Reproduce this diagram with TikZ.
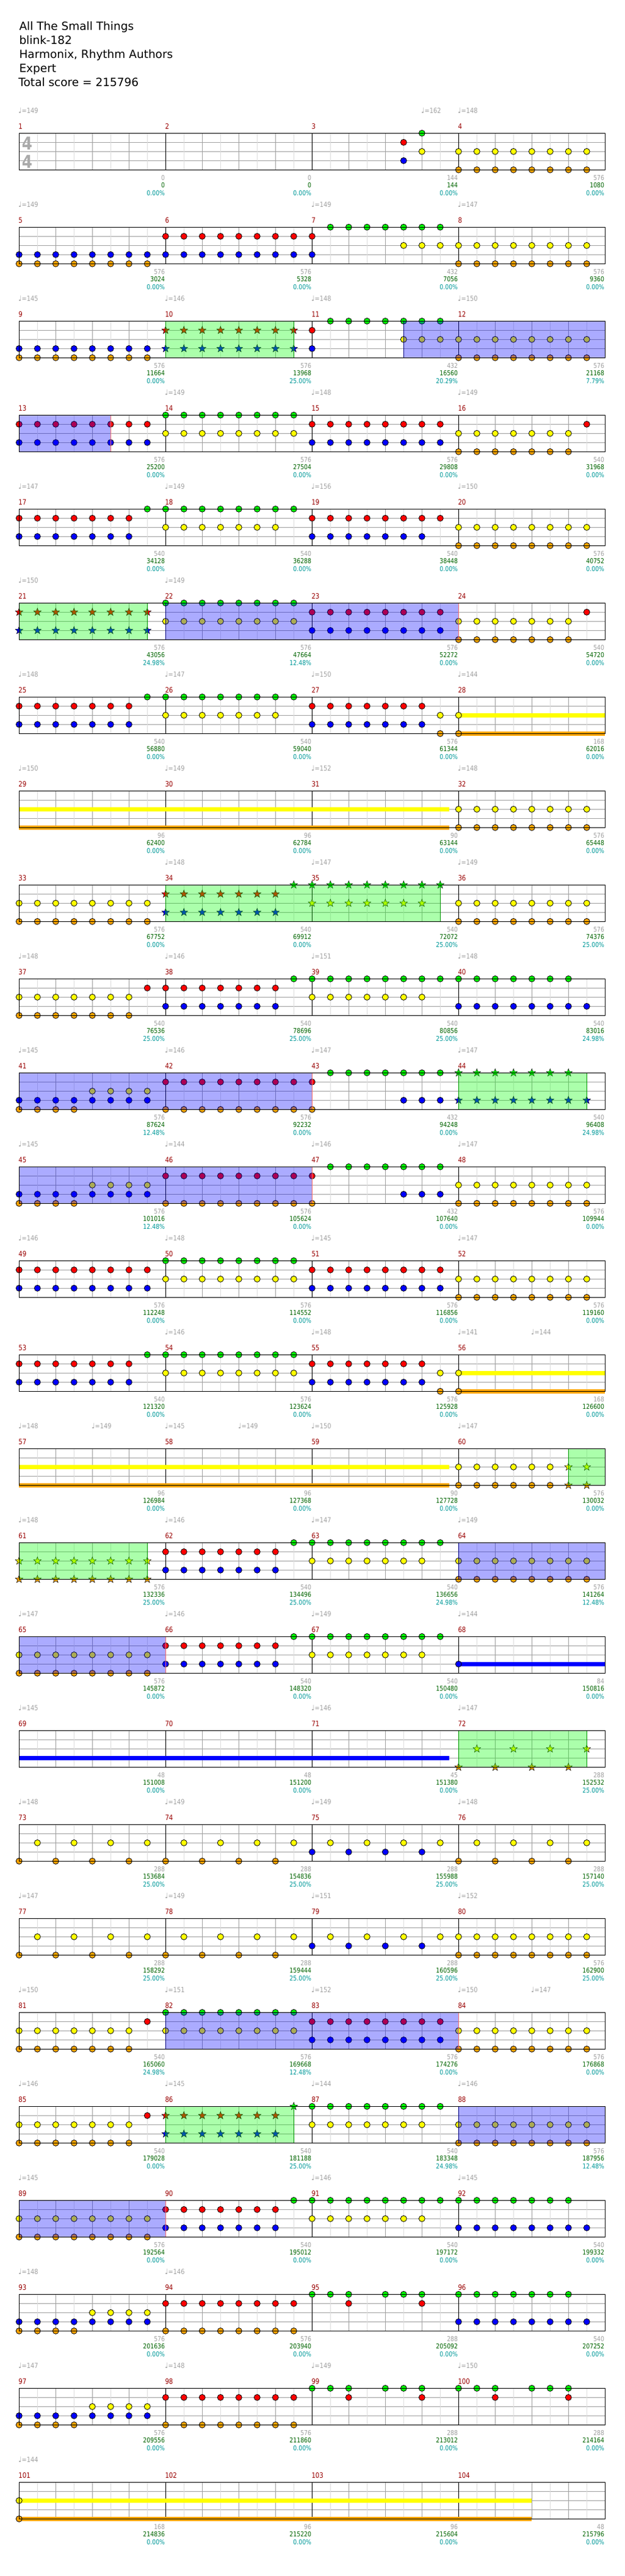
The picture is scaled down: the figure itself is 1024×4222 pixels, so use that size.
\documentclass[tikz,border=0pt]{standalone}
\usepackage{fontspec}
\setmainfont{DejaVu Sans}
\newfontfamily\numfont{DejaVu Sans}[FakeStretch=0.85]
\newfontfamily\sigfont{DejaVu Sans}[FakeStretch=0.85]
\usetikzlibrary{shapes.geometric}
\definecolor{gridA}{RGB}{160,160,160}
\definecolor{gridB}{RGB}{221,221,221}
\definecolor{nG}{RGB}{0,255,0}
\definecolor{nR}{RGB}{255,0,0}
\definecolor{nY}{RGB}{255,255,0}
\definecolor{nB}{RGB}{0,0,255}
\definecolor{nO}{RGB}{255,165,0}
\definecolor{mnred}{RGB}{153,0,0}
\definecolor{txgray}{RGB}{160,160,160}
\definecolor{txgreen}{RGB}{0,100,0}
\definecolor{txteal}{RGB}{0,153,153}
\definecolor{zonenavy}{RGB}{0,0,128}
\definecolor{zonegreenb}{RGB}{0,150,0}
\definecolor{sigray}{RGB}{170,170,170}
\definecolor{edgered}{RGB}{255,110,110}
\tikzset{
  lanegrid/.style={draw=gridA, line width=1pt},
  halfgrid/.style={draw=gridB, line width=1pt},
  beatgrid/.style={draw=gridA, line width=1pt},
  barline/.style={draw=black, line width=1pt},
  staffborder/.style={draw=black, line width=1.5pt},
  notecirc/.style={draw=black, line width=0.8pt},
  starshape/.style={draw=black, line width=0.5pt},
  gz/.style={fill=nG, fill opacity=0.33, draw=zonegreenb, line width=0.8pt},
  bz/.style={fill=nB, fill opacity=0.33, draw=zonenavy, line width=1pt},
  redge/.style={draw=edgered, line width=1pt},
  titletxt/.style={anchor=base west, inner sep=0pt, font=\fontsize{18.5}{22}\selectfont},
  stat/.style={anchor=base east, inner sep=0pt, font=\numfont\fontsize{11}{12}\selectfont},
  mnumsty/.style={anchor=base west, inner sep=0pt, text=mnred, font=\numfont\fontsize{12}{12}\selectfont},
  tempotxt/.style={anchor=base west, inner sep=0pt, text=txgray, font=\numfont\fontsize{11.5}{12}\selectfont},
  sigtxt/.style={anchor=base, inner sep=0pt, text=sigray, font=\sigfont\bfseries\fontsize{29}{30}\selectfont}
}
\makeatletter
\newcommand\haslane[2]{\edef\@hl{\noexpand\in@{#1}{#2}}\@hl}
\newcommand\measpos[2]{%
  \pgfmathsetmacro\X{31.3+240*mod(#1-1,4)+30*#2}%
  \pgfmathsetmacro\Y{218.3+154*floor((#1-1)/4)}%
}
\newcommand\notec[2]{\filldraw[notecirc, fill=#2] (\X,\Y+15*#1) circle[radius=5pt];}
\newcommand\starnote[2]{\filldraw[starshape, fill=#2, shift={(\X,\Y+15*#1)}] (90:6.6pt) -- (126:2.7pt) -- (162:6.6pt) -- (198:2.7pt) -- (234:6.6pt) -- (270:2.7pt) -- (306:6.6pt) -- (342:2.7pt) -- (18:6.6pt) -- (54:2.7pt) -- cycle;}
\newcommand\chord[1]{%
  \haslane{G}{#1}\ifin@\notec{0}{nG}\fi
  \haslane{R}{#1}\ifin@\notec{1}{nR}\fi
  \haslane{Y}{#1}\ifin@\notec{2}{nY}\fi
  \haslane{B}{#1}\ifin@\notec{3}{nB}\fi
  \haslane{O}{#1}\ifin@\notec{4}{nO}\fi
  \haslane{g}{#1}\ifin@\starnote{0}{nG}\fi
  \haslane{r}{#1}\ifin@\starnote{1}{nR}\fi
  \haslane{y}{#1}\ifin@\starnote{2}{nY}\fi
  \haslane{b}{#1}\ifin@\starnote{3}{nB}\fi
  \haslane{o}{#1}\ifin@\starnote{4}{nO}\fi
}
\makeatother
\newcommand\meas[2]{%
  \edef\mlist{#2}%
  \foreach \tk [count=\i from 0] in \mlist {\measpos{#1}{\i}\chord{\tk}}%
}
\newcommand\greenzone[4]{\measpos{#1}{#2}\let\xa\X\measpos{#3}{#4}\filldraw[gz] (\xa,\Y) rectangle (\X,\Y+60);}
\newcommand\bluezone[5]{\measpos{#1}{#2}\let\xa\X\measpos{#3}{#4}\filldraw[bz] (\xa,\Y) rectangle (\X,\Y+60);\ifnum#5=1 \draw[redge] (\X,\Y) -- (\X,\Y+60);\fi}
\newcommand\sustain[6]{\measpos{#1}{#2}\let\xa\X\measpos{#3}{#4}\fill[#6] (\xa,\Y+15*#5-3.4) rectangle (\X,\Y+15*#5+3.4);}
\newcommand\mstats[4]{\measpos{#1}{8}%
  \node[stat, text=txgray] (sa#1) at (\X-1,\Y+76.7) {#2};%
  \node[stat, text=txgreen] (sb#1) at (\X-1,\Y+89.4) {#3};%
  \node[stat, text=txteal] (sc#1) at (\X-1,\Y+102.4) {#4\%};}
\def\eRB{RB,RB,RB,RB,RB,RB,RB,RB}
\def\eYO{YO,YO,YO,YO,YO,YO,YO,YO}
\def\eBO{BO,BO,BO,BO,BO,BO,BO,BO}
\def\eGY{GY,GY,GY,GY,GY,GY,GY,GY}
\def\eRO{RO,RO,RO,RO,RO,RO,RO,RO}
\def\sRBG{RB,RB,RB,RB,RB,RB,RB,G}
\def\sGYG{GY,GY,GY,GY,GY,GY,GY,G}
\def\sYOR{YO,YO,YO,YO,YO,YO,YO,R}
\def\sGBB{GB,GB,GB,GB,GB,GB,GB,B}
\def\sBOYB{BO,BO,BO,BO,YB,YB,YB,YB}
\def\sRG{RB,G,G,G,G,GY,GY,GY}
\def\sROG{RO,G,G,G,G,GB,GB,GB}
\def\sGGR{G,G,GR,-,G,G,GR,-}
\def\sOY{O,Y,O,Y,O,Y,O,Y}
\def\sBY{B,Y,B,Y,B,Y,B,Y}
\begin{document}
\begin{tikzpicture}[x=1pt,y=-1pt]
\useasboundingbox (0,0) rectangle (1024,4222);
\fill[white] (0,0) rectangle (1024,4222);
% title block
\node[titletxt] (title) at (31.3,49.3) {All The Small Things};
\node[titletxt] (artist) at (31.3,72) {blink-182};
\node[titletxt] (author) at (31.3,95.3) {Harmonix, Rhythm Authors};
\node[titletxt] (level) at (31.3,118.3) {Expert};
\node[titletxt] (total) at (30.3,141.3) {Total score = 215796};
% staff grids
\foreach \r in {0,...,25} {
  \pgfmathsetmacro\Y{218.3+154*\r}
  \foreach \l in {1,2,3} \draw[lanegrid] (31.3,\Y+15*\l) -- (991.3,\Y+15*\l);
  \foreach \k in {1,3,...,31} \draw[halfgrid] (31.3+30*\k,\Y) -- (31.3+30*\k,\Y+60);
  \foreach \k in {2,4,...,30} \draw[beatgrid] (31.3+30*\k,\Y) -- (31.3+30*\k,\Y+60);
  \foreach \k in {8,16,24} \draw[barline] (31.3+30*\k,\Y) -- (31.3+30*\k,\Y+60);
}
% time signature
\node[sigtxt] (tsa) at (44.5,245) {4};
\node[sigtxt] (tsb) at (44.5,275) {4};
% sustains
\sustain{28}{0}{28}{8}{2}{nY}\sustain{28}{0}{28}{8}{4}{nO}
\sustain{29}{0}{31}{7.5}{2}{nY}\sustain{29}{0}{31}{7.5}{4}{nO}
\sustain{56}{0}{56}{8}{2}{nY}\sustain{56}{0}{56}{8}{4}{nO}
\sustain{57}{0}{59}{7.5}{2}{nY}\sustain{57}{0}{59}{7.5}{4}{nO}
\sustain{68}{0}{68}{8}{3}{nB}
\sustain{69}{0}{71}{7.5}{3}{nB}
\sustain{101}{0}{104}{4}{2}{nY}\sustain{101}{0}{104}{4}{4}{nO}
% notes
\meas{3}{-,-,-,-,-,RB,GY,-}
\meas{4}{\eYO}
\meas{5}{\eBO}
\meas{6}{\eRB}
\meas{7}{\sRG}
\meas{8}{\eYO}
\meas{9}{\eBO}
\meas{10}{rb,rb,rb,rb,rb,rb,rb,rb}
\meas{11}{\sRG}
\meas{12}{\eYO}
\meas{13}{\eRB}
\meas{14}{\eGY}
\meas{15}{\eRB}
\meas{16}{\sYOR}
\meas{17}{\sRBG}
\meas{18}{\sGYG}
\meas{19}{RB,RB,RB,RB,RB,RB,RB,R}
\meas{20}{\eYO}
\meas{21}{rb,rb,rb,rb,rb,rb,rb,rb}
\meas{22}{\eGY}
\meas{23}{\eRB}
\meas{24}{\sYOR}
\meas{25}{\sRBG}
\meas{26}{\sGYG}
\meas{27}{RB,RB,RB,RB,RB,RB,RB,YO}
\meas{28}{YO}
\meas{32}{\eYO}
\meas{33}{\eYO}
\meas{34}{rb,rb,rb,rb,rb,rb,rb,g}
\meas{35}{gy,gy,gy,gy,gy,gy,gy,g}
\meas{36}{\eYO}
\meas{37}{\sYOR}
\meas{38}{\sRBG}
\meas{39}{\sGYG}
\meas{40}{\sGBB}
\meas{41}{\sBOYB}
\meas{42}{\eRO}
\meas{43}{\sROG}
\meas{44}{gb,gb,gb,gb,gb,gb,gb,b}
\meas{45}{\sBOYB}
\meas{46}{\eRO}
\meas{47}{\sROG}
\meas{48}{\eYO}
\meas{49}{\eRB}
\meas{50}{\eGY}
\meas{51}{\eRB}
\meas{52}{\eYO}
\meas{53}{\sRBG}
\meas{54}{\eGY}
\meas{55}{RB,RB,RB,RB,RB,RB,RB,YO}
\meas{56}{YO}
\meas{60}{YO,YO,YO,YO,YO,YO,yo,yo}
\meas{61}{yo,yo,yo,yo,yo,yo,yo,yo}
\meas{62}{\sRBG}
\meas{63}{\sGYG}
\meas{64}{\eYO}
\meas{65}{\eYO}
\meas{66}{\sRBG}
\meas{67}{\sGYG}
\meas{68}{B}
\meas{72}{o,y,o,y,o,y,o,y}
\meas{73}{\sOY}
\meas{74}{\sOY}
\meas{75}{\sBY}
\meas{76}{\sOY}
\meas{77}{\sOY}
\meas{78}{\sOY}
\meas{79}{\sBY}
\meas{80}{\eYO}
\meas{81}{\sYOR}
\meas{82}{\eGY}
\meas{83}{\eRB}
\meas{84}{\eYO}
\meas{85}{\sYOR}
\meas{86}{rb,rb,rb,rb,rb,rb,rb,g}
\meas{87}{\sGYG}
\meas{88}{\eYO}
\meas{89}{\eYO}
\meas{90}{\sRBG}
\meas{91}{\sGYG}
\meas{92}{\sGBB}
\meas{93}{\sBOYB}
\meas{94}{\eRO}
\meas{95}{\sGGR}
\meas{96}{\sGBB}
\meas{97}{\sBOYB}
\meas{98}{\eRO}
\meas{99}{\sGGR}
\meas{100}{\sGGR}
\meas{101}{YO}
% star power phrases
\greenzone{10}{0}{10}{7}
\greenzone{21}{0}{21}{7}
\greenzone{34}{0}{35}{7}
\greenzone{44}{0}{44}{7}
\greenzone{60}{6}{60}{8}
\greenzone{61}{0}{61}{7}
\greenzone{72}{0}{72}{7}
\greenzone{86}{0}{86}{7}
% activations
\bluezone{11}{5}{12}{8}{0}
\bluezone{13}{0}{13}{5}{1}
\bluezone{22}{0}{24}{0}{1}
\bluezone{41}{0}{43}{0}{1}
\bluezone{45}{0}{47}{0}{1}
\bluezone{64}{0}{64}{8}{0}
\bluezone{65}{0}{66}{0}{1}
\bluezone{82}{0}{84}{0}{1}
\bluezone{88}{0}{88}{8}{0}
\bluezone{89}{0}{90}{0}{1}
% staff borders
\foreach \r in {0,...,25} {
  \pgfmathsetmacro\Y{218.3+154*\r}
  \draw[staffborder] (31.3,\Y) rectangle (991.3,\Y+60);
}
% measure numbers
\foreach \m in {1,...,104} {
  \measpos{\m}{0}
  \node[mnumsty] (mn\m) at (\X-1,\Y-6.6) {\m};
}
% tempo marks
\foreach \m/\p/\v in {1/0/149,3/6/162,4/0/148,5/0/149,7/0/149,8/0/147,9/0/145,10/0/146,11/0/148,12/0/150,14/0/149,15/0/148,16/0/149,17/0/147,18/0/149,19/0/156,20/0/150,21/0/150,22/0/149,25/0/148,26/0/147,27/0/150,28/0/144,29/0/150,30/0/149,31/0/152,32/0/148,34/0/148,35/0/147,36/0/149,37/0/148,38/0/146,39/0/151,40/0/148,41/0/145,42/0/146,43/0/147,44/0/147,45/0/145,46/0/144,47/0/146,48/0/147,49/0/146,50/0/148,51/0/145,52/0/147,54/0/146,55/0/148,56/0/141,56/4/144,57/0/148,57/4/149,58/0/145,58/4/149,59/0/150,60/0/147,61/0/148,62/0/146,63/0/147,64/0/149,65/0/147,66/0/146,67/0/149,68/0/144,69/0/145,71/0/146,72/0/147,73/0/148,74/0/149,75/0/149,76/0/148,77/0/147,78/0/149,79/0/151,80/0/152,81/0/150,82/0/151,83/0/152,84/0/150,84/4/147,85/0/146,86/0/145,87/0/144,88/0/146,89/0/145,91/0/146,92/0/145,93/0/148,94/0/146,97/0/147,98/0/148,99/0/149,100/0/150,101/0/144} {
  \measpos{\m}{\p}
  \node[tempotxt] (tp\m-\p) at (\X-1.5,\Y-33) {{\fontspec{DejaVu Sans}\fontsize{12}{12}\selectfont ♩}=\v};
}
% measure statistics
\foreach \m/\a/\b/\c in {1/0/0/0.00,2/0/0/0.00,3/144/144/0.00,4/576/1080/0.00,5/576/3024/0.00,6/576/5328/0.00,7/432/7056/0.00,8/576/9360/0.00,9/576/11664/0.00,10/576/13968/25.00,11/432/16560/20.29,12/576/21168/7.79,13/576/25200/0.00,14/576/27504/0.00,15/576/29808/0.00,16/540/31968/0.00,17/540/34128/0.00,18/540/36288/0.00,19/540/38448/0.00,20/576/40752/0.00,21/576/43056/24.98,22/576/47664/12.48,23/576/52272/0.00,24/540/54720/0.00,25/540/56880/0.00,26/540/59040/0.00,27/576/61344/0.00,28/168/62016/0.00,29/96/62400/0.00,30/96/62784/0.00,31/90/63144/0.00,32/576/65448/0.00,33/576/67752/0.00,34/540/69912/0.00,35/540/72072/25.00,36/576/74376/25.00,37/540/76536/25.00,38/540/78696/25.00,39/540/80856/25.00,40/540/83016/24.98,41/576/87624/12.48,42/576/92232/0.00,43/432/94248/0.00,44/540/96408/24.98,45/576/101016/12.48,46/576/105624/0.00,47/432/107640/0.00,48/576/109944/0.00,49/576/112248/0.00,50/576/114552/0.00,51/576/116856/0.00,52/576/119160/0.00,53/540/121320/0.00,54/576/123624/0.00,55/576/125928/0.00,56/168/126600/0.00,57/96/126984/0.00,58/96/127368/0.00,59/90/127728/0.00,60/576/130032/0.00,61/576/132336/25.00,62/540/134496/25.00,63/540/136656/24.98,64/576/141264/12.48,65/576/145872/0.00,66/540/148320/0.00,67/540/150480/0.00,68/84/150816/0.00,69/48/151008/0.00,70/48/151200/0.00,71/45/151380/0.00,72/288/152532/25.00,73/288/153684/25.00,74/288/154836/25.00,75/288/155988/25.00,76/288/157140/25.00,77/288/158292/25.00,78/288/159444/25.00,79/288/160596/25.00,80/576/162900/25.00,81/540/165060/24.98,82/576/169668/12.48,83/576/174276/0.00,84/576/176868/0.00,85/540/179028/0.00,86/540/181188/25.00,87/540/183348/24.98,88/576/187956/12.48,89/576/192564/0.00,90/540/195012/0.00,91/540/197172/0.00,92/540/199332/0.00,93/576/201636/0.00,94/576/203940/0.00,95/288/205092/0.00,96/540/207252/0.00,97/576/209556/0.00,98/576/211860/0.00,99/288/213012/0.00,100/288/214164/0.00,101/168/214836/0.00,102/96/215220/0.00,103/96/215604/0.00,104/48/215796/0.00} {
  \mstats{\m}{\a}{\b}{\c}
}
\end{tikzpicture}
\end{document}
